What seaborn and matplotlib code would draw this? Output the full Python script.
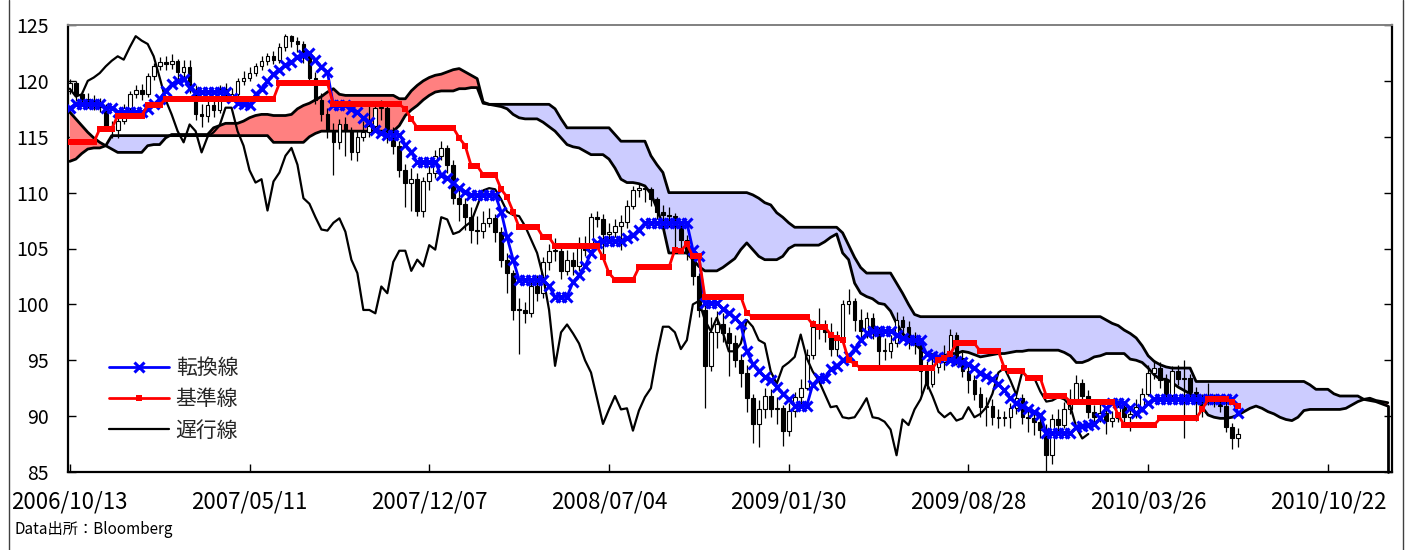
import matplotlib
matplotlib.use("Agg")
import matplotlib.pyplot as plt
from matplotlib.lines import Line2D
import seaborn as sns
import numpy as np
import pandas as pd

sns.set_theme(style="white")
plt.rcParams['font.family'] = ['Noto Sans CJK JP', 'DejaVu Sans']

# ---------------- data (weekly USD/JPY, week index 0 = 2006/10/13) ----------------
tick_labels = ['2006/10/13', '2007/05/11', '2007/12/07', '2008/07/04',
               '2009/01/30', '2009/08/28', '2010/03/26', '2010/10/22']
tick_weeks = [0, 30, 60, 90, 120, 150, 180, 210]

opens = [
    119.1, 119.8, 118.8, 118.4, 118.2, 118.0, 117.7, 116.0, 115.6, 116.4,
    117.6, 118.8, 119.2, 118.8, 120.4, 121.3, 121.7, 121.5, 121.8, 120.8,
    121.2, 119.2, 117.0, 116.9, 117.8, 117.4, 119.3, 118.6, 118.8, 120.0,
    120.3, 120.7, 121.3, 121.8, 122.2, 121.9, 123.0, 124.0, 123.6, 123.3,
    122.2, 120.3, 118.3, 117.0, 115.5, 114.5, 116.1, 115.5, 113.6, 115.0,
    115.4, 116.0, 117.6, 117.6, 115.5, 114.2, 112.0, 110.9, 111.2, 108.4,
    111.0, 111.8, 113.3, 114.0, 112.5, 109.5, 109.0, 107.8, 106.7, 106.6,
    107.3, 107.7, 106.5, 104.0, 102.8, 99.5, 99.5, 99.2, 101.6, 101.0,
    103.8, 104.8, 104.8, 103.0, 104.0, 103.4, 105.3, 104.9, 107.8, 107.6,
    106.3, 106.5, 107.0, 107.4, 108.8, 110.2, 110.4, 110.3, 109.4, 108.3,
    108.0, 107.9, 107.0, 105.8, 104.6, 102.5, 99.5, 94.5, 97.5, 98.2,
    97.4, 96.5, 95.0, 93.9, 91.6, 89.3, 90.6, 91.8, 90.6, 90.7,
    88.7, 90.5, 91.7, 92.5, 95.5, 98.0, 98.0, 97.5, 96.0, 96.8,
    100.0, 100.3, 98.6, 97.6, 98.8, 97.5, 95.8, 95.8, 96.5, 98.6,
    98.0, 96.8, 96.5, 94.0, 92.9, 94.4, 94.8, 95.3, 97.3, 95.2,
    94.0, 93.2, 92.0, 90.8, 90.9, 89.9, 89.8, 89.9, 90.7, 91.6,
    89.9, 89.8, 89.5, 88.8, 86.5, 89.7, 89.2, 90.6, 91.5, 93.0,
    91.8, 90.4, 89.9, 90.3, 89.6, 89.8, 90.8, 89.9, 90.2, 90.8,
    92.0, 93.9, 94.3, 93.2, 91.9, 94.0, 93.3, 93.4, 92.2, 91.3,
    91.4, 91.7, 91.5, 90.9, 89.0, 88.0]

closes = [
    119.8, 118.8, 118.4, 118.2, 118.0, 117.7, 116.0, 115.6, 116.4, 117.6,
    118.8, 119.2, 118.8, 120.4, 121.3, 121.7, 121.5, 121.8, 120.8, 121.2,
    119.2, 117.0, 116.9, 117.8, 117.4, 119.3, 118.6, 118.8, 120.0, 120.3,
    120.7, 121.3, 121.8, 122.2, 121.9, 123.0, 124.0, 123.6, 123.3, 122.2,
    120.3, 118.3, 117.0, 115.5, 114.5, 116.1, 115.5, 113.6, 115.0, 115.4,
    116.0, 117.6, 117.6, 115.5, 114.2, 112.0, 110.9, 111.2, 108.4, 111.0,
    111.8, 113.3, 114.0, 112.5, 109.5, 109.0, 107.8, 106.7, 106.6, 107.3,
    107.7, 106.5, 104.0, 102.8, 99.5, 99.5, 99.2, 101.6, 101.0, 103.8,
    104.8, 104.8, 103.0, 104.0, 103.4, 105.3, 104.9, 107.8, 107.6, 106.3,
    106.5, 107.0, 107.4, 108.8, 110.2, 110.4, 110.3, 109.4, 108.3, 108.0,
    107.9, 107.0, 105.8, 104.6, 102.5, 99.5, 94.5, 97.5, 98.2, 97.4,
    96.5, 95.0, 93.9, 91.6, 89.3, 90.6, 91.8, 90.6, 90.7, 88.7,
    90.5, 91.7, 92.5, 95.5, 98.0, 98.0, 97.5, 96.0, 96.8, 100.0,
    100.3, 98.6, 97.6, 98.8, 97.5, 95.8, 95.8, 96.5, 98.6, 98.0,
    96.8, 96.5, 94.0, 92.9, 94.4, 94.8, 95.3, 97.3, 95.2, 94.0,
    93.2, 92.0, 90.8, 90.9, 89.9, 89.8, 89.9, 90.7, 91.6, 89.9,
    89.8, 89.5, 88.8, 86.5, 89.7, 89.2, 90.6, 91.5, 93.0, 91.8,
    90.4, 89.9, 90.3, 89.6, 89.8, 90.8, 89.9, 90.2, 90.8, 92.0,
    93.9, 94.3, 93.2, 91.9, 94.0, 93.3, 93.4, 92.2, 91.3, 91.4,
    91.7, 91.5, 90.9, 89.0, 88.0, 88.4]

highs = [
    120.2, 120.0, 119.1, 118.9, 118.7, 118.5, 117.9, 116.4, 116.8, 117.9,
    119.1, 119.6, 119.7, 120.7, 121.6, 122.1, 122.2, 122.4, 122.0, 121.9,
    121.9, 119.6, 117.9, 118.3, 118.4, 119.6, 119.8, 119.4, 120.3, 120.9,
    121.2, 121.6, 122.2, 122.5, 122.7, 123.4, 124.2, 124.1, 123.9, 123.6,
    122.6, 120.8, 118.9, 117.6, 116.2, 116.6, 116.8, 115.9, 115.6, 116.4,
    117.8, 118.2, 118.3, 117.9, 115.9, 114.6, 112.6, 112.2, 111.8, 111.4,
    112.4, 113.8, 114.6, 114.3, 112.9, 110.4, 109.5, 108.7, 107.9, 108.4,
    108.6, 108.1, 106.9, 104.6, 103.1, 100.6, 100.2, 102.3, 102.6, 104.2,
    105.4, 105.9, 105.3, 104.9, 104.7, 106.0, 106.1, 108.2, 108.4, 108.1,
    107.3, 107.6, 108.0, 109.3, 110.6, 110.9, 110.6, 110.5, 109.6, 108.9,
    108.7, 108.2, 107.3, 106.2, 105.0, 102.8, 100.1, 98.9, 99.4, 99.2,
    98.0, 97.3, 95.6, 94.6, 92.0, 91.4, 92.5, 92.4, 91.7, 91.0,
    91.2, 92.2, 93.3, 96.0, 98.6, 99.7, 98.6, 98.3, 97.6, 100.4,
    101.4, 100.6, 99.6, 99.3, 99.2, 98.0, 97.0, 97.3, 99.3, 99.0,
    98.5, 97.5, 96.8, 94.9, 95.2, 95.5, 96.4, 97.8, 97.5, 95.7,
    94.6, 93.7, 92.6, 91.7, 91.5, 90.6, 90.5, 91.2, 92.2, 92.0,
    90.6, 90.3, 90.1, 89.3, 90.2, 90.6, 91.3, 92.4, 93.7, 93.3,
    92.3, 91.0, 91.1, 90.9, 90.5, 91.4, 91.3, 90.8, 91.5, 92.5,
    94.6, 95.0, 94.8, 93.8, 94.5, 94.6, 95.0, 93.8, 92.6, 92.0,
    93.0, 92.0, 91.9, 91.4, 89.4, 88.9]

lows = [
    118.8, 118.2, 117.9, 117.6, 117.4, 117.2, 115.6, 114.9, 114.9, 116.1,
    117.3, 118.5, 118.3, 118.6, 120.1, 121.0, 121.0, 121.1, 119.9, 120.2,
    118.9, 116.5, 115.9, 116.3, 116.8, 117.1, 118.2, 118.2, 118.5, 119.6,
    120.0, 120.4, 121.0, 121.4, 121.5, 121.6, 122.7, 123.0, 122.6, 121.6,
    119.8, 117.9, 116.4, 114.9, 111.6, 113.9, 113.3, 112.9, 112.8, 114.6,
    115.0, 115.6, 116.5, 114.4, 113.5, 111.4, 108.7, 108.4, 107.9, 107.8,
    110.2, 111.3, 112.9, 111.8, 109.0, 107.5, 106.7, 105.5, 105.4, 105.9,
    106.9, 105.6, 103.3, 101.0, 98.6, 95.6, 98.3, 98.9, 100.3, 100.6,
    103.1, 103.9, 102.3, 102.6, 102.6, 103.0, 104.3, 104.6, 106.9, 104.3,
    105.6, 106.0, 104.9, 106.8, 108.5, 109.6, 109.2, 108.8, 107.6, 106.8,
    106.9, 105.1, 105.0, 104.0, 101.7, 98.9, 90.7, 94.0, 96.1, 96.6,
    93.6, 94.4, 92.6, 90.4, 87.6, 87.2, 89.8, 89.9, 89.3, 87.3,
    88.2, 89.9, 90.9, 92.3, 95.1, 96.9, 96.6, 95.4, 95.4, 96.6,
    99.1, 97.6, 96.9, 97.0, 96.9, 94.6, 95.0, 95.2, 96.2, 96.8,
    96.0, 95.6, 91.8, 92.4, 92.6, 93.9, 94.1, 94.9, 94.6, 93.5,
    92.1, 91.4, 89.9, 89.1, 89.2, 88.9, 89.1, 88.9, 90.2, 89.3,
    88.6, 88.3, 88.0, 85.0, 85.7, 88.6, 88.9, 90.2, 91.1, 91.3,
    89.8, 89.3, 89.5, 88.4, 89.0, 89.5, 89.3, 88.7, 89.8, 90.4,
    91.8, 93.3, 92.5, 91.5, 91.7, 92.8, 88.0, 91.6, 89.6, 89.9,
    91.0, 90.8, 90.4, 88.6, 87.1, 87.2]

tenkan = [
    117.6, 117.9, 117.9, 117.9, 117.9, 117.9, 117.6, 117.6, 117.2, 117.2,
    117.2, 117.2, 117.2, 117.5, 117.9, 118.4, 119.1, 119.7, 120.0, 120.2,
    119.4, 119.0, 119.0, 119.0, 119.0, 119.0, 119.0, 118.5, 118.0, 117.9,
    117.8, 118.8, 119.3, 120.0, 120.6, 121.0, 121.4, 121.7, 122.1, 122.3,
    122.5, 121.9, 121.2, 120.8, 117.8, 117.8, 117.8, 117.5, 117.2, 116.7,
    116.3, 115.6, 115.3, 115.2, 115.2, 115.2, 114.3, 113.6, 112.7, 112.7,
    112.7, 112.7, 111.6, 111.3, 110.9, 110.4, 110.1, 109.8, 109.8, 109.8,
    109.8, 109.8, 108.3, 106.0, 104.0, 102.2, 102.2, 102.2, 102.2, 102.2,
    101.6, 100.7, 100.7, 100.7, 102.0, 102.6, 103.4, 104.6, 105.5, 105.7,
    105.7, 105.7, 105.7, 105.9, 106.2, 106.7, 107.3, 107.3, 107.3, 107.3,
    107.3, 107.3, 107.3, 107.3, 104.9, 104.3, 100.1, 100.1, 100.1, 99.6,
    99.2, 98.8, 98.2, 95.8, 94.7, 94.0, 93.5, 93.2, 92.6, 92.0,
    91.5, 90.9, 90.9, 90.9, 92.8, 93.4, 93.4, 94.2, 94.5, 95.0,
    95.4, 96.0, 96.8, 97.4, 97.6, 97.6, 97.6, 97.6, 97.3, 97.0,
    96.8, 96.8, 96.8, 95.6, 95.4, 95.3, 95.2, 95.0, 94.9, 94.8,
    94.7, 94.3, 93.9, 93.6, 93.3, 92.9, 92.3, 91.6, 91.2, 90.9,
    90.6, 90.4, 90.1, 88.5, 88.5, 88.5, 88.5, 88.5, 89.0, 89.1,
    89.2, 89.3, 89.8, 90.7, 91.2, 91.2, 91.2, 90.7, 90.3, 90.6,
    91.2, 91.5, 91.5, 91.5, 91.5, 91.5, 91.5, 91.5, 91.5, 91.5,
    91.5, 91.5, 91.5, 91.5, 91.5, 90.3]

kijun = [
    114.5, 114.5, 114.5, 114.5, 114.5, 115.7, 115.7, 115.7, 116.9, 116.9,
    116.9, 116.9, 116.9, 117.8, 117.8, 117.8, 118.4, 118.4, 118.4, 118.4,
    118.4, 118.4, 118.4, 118.4, 118.4, 118.4, 118.4, 118.4, 118.4, 118.4,
    118.4, 118.4, 118.4, 118.4, 118.4, 119.8, 119.8, 119.8, 119.8, 119.8,
    119.8, 119.8, 119.8, 119.8, 117.9, 117.9, 117.9, 117.9, 117.9, 117.9,
    117.9, 117.9, 117.9, 117.9, 117.9, 117.9, 117.5, 116.6, 115.8, 115.8,
    115.8, 115.8, 115.8, 115.8, 115.8, 114.9, 114.2, 112.4, 112.4, 111.6,
    111.6, 111.6, 110.3, 109.6, 108.3, 106.9, 106.9, 106.9, 106.9, 106.0,
    106.0, 105.2, 105.2, 105.2, 105.2, 105.2, 105.2, 105.2, 105.2, 104.2,
    102.8, 102.2, 102.2, 102.2, 102.2, 103.3, 103.3, 103.3, 103.3, 103.3,
    103.3, 104.9, 104.8, 105.4, 104.3, 104.3, 100.7, 100.7, 100.7, 100.7,
    100.7, 100.7, 100.7, 99.2, 98.9, 98.9, 98.9, 98.9, 98.9, 98.9,
    98.9, 98.9, 98.9, 98.9, 98.2, 98.0, 98.0, 97.3, 97.0, 96.8,
    95.0, 94.7, 94.3, 94.3, 94.3, 94.3, 94.3, 94.3, 94.3, 94.3,
    94.3, 94.3, 94.3, 94.3, 94.3, 95.0, 95.2, 95.6, 96.5, 96.5,
    96.5, 96.5, 95.8, 95.8, 95.8, 95.8, 94.3, 94.0, 94.0, 94.0,
    93.4, 93.4, 93.4, 91.8, 91.8, 91.8, 91.8, 91.3, 91.3, 91.3,
    91.3, 91.3, 91.3, 91.3, 91.3, 90.1, 89.2, 89.2, 89.2, 89.2,
    89.2, 89.2, 89.8, 89.8, 89.8, 89.8, 89.8, 89.8, 89.8, 90.6,
    91.5, 91.5, 91.5, 91.5, 91.3, 90.9]

span_a = [
    117.2, 116.6, 116.0, 115.4, 114.9, 114.5, 114.2, 113.9, 113.6, 113.6,
    113.6, 113.6, 113.6, 114.2, 114.3, 114.3, 114.9, 115.2, 115.2, 115.2,
    115.2, 115.2, 115.2, 115.2, 115.8, 116.0, 116.2, 116.2, 116.2, 116.4,
    116.7, 116.9, 117.0, 117.0, 116.9, 116.9, 116.9, 117.0, 117.5, 117.8,
    118.0, 118.3, 118.6, 119.0, 119.3, 118.8, 118.7, 118.7, 118.7, 118.7,
    118.7, 118.7, 118.7, 118.7, 118.7, 118.4, 118.4, 119.1, 119.6, 120.0,
    120.3, 120.5, 120.6, 120.8, 121.0, 121.1, 120.8, 120.5, 120.2, 118.1,
    117.9, 117.8, 117.7, 117.5, 117.0, 116.7, 116.6, 116.6, 116.6, 116.3,
    115.9, 115.5, 114.9, 114.3, 114.1, 114.0, 113.7, 113.4, 113.4, 113.4,
    113.0, 112.2, 111.2, 110.9, 110.9, 110.8, 110.6, 109.9, 108.6, 107.0,
    104.6, 104.6, 104.6, 104.6, 104.0, 103.4, 103.0, 103.0, 103.0, 103.3,
    103.7, 104.1, 104.9, 105.5, 104.9, 104.3, 104.0, 104.0, 104.0, 104.3,
    105.0, 105.3, 105.3, 105.3, 105.3, 105.3, 105.6, 106.0, 106.3, 104.6,
    104.0, 101.9, 101.0, 100.7, 100.5, 100.1, 100.0, 99.4, 98.3, 97.4,
    96.8, 96.5, 96.0, 95.6, 95.5, 95.3, 95.4, 95.6, 95.6, 95.8,
    95.7, 95.5, 95.3, 95.4, 95.5, 95.6, 95.6, 95.7, 95.8, 95.8,
    95.9, 95.9, 95.9, 95.9, 95.9, 95.9, 95.7, 95.4, 94.8, 94.8,
    95.0, 95.3, 95.4, 95.6, 95.6, 95.6, 95.6, 95.1, 95.0, 94.8,
    94.3, 93.7, 93.3, 93.3, 93.0, 92.6, 92.3, 92.0, 91.7, 90.8,
    90.1, 89.9, 89.8, 89.8, 89.9, 90.1, 90.4, 90.7, 90.9, 90.7,
    90.4, 90.2, 89.9, 89.7, 89.6, 89.9, 90.5, 90.6, 90.6, 90.6,
    90.6, 90.6, 90.6, 90.7, 91.0, 91.3, 91.5, 91.6, 91.4, 91.3,
    91.2]

span_b = [
    112.8, 113.0, 113.5, 113.9, 114.0, 114.0, 114.2, 115.1, 115.1, 115.1,
    115.1, 115.1, 115.1, 115.1, 115.1, 115.1, 115.1, 115.1, 115.1, 115.1,
    115.1, 115.1, 115.1, 115.1, 115.1, 115.1, 115.1, 115.1, 115.1, 115.1,
    115.1, 115.1, 115.1, 115.1, 114.5, 114.5, 114.5, 114.5, 114.5, 114.5,
    115.0, 115.3, 115.5, 115.5, 115.5, 115.5, 115.5, 115.5, 115.5, 115.5,
    115.5, 115.5, 115.5, 115.5, 115.5, 116.0, 116.9, 117.4, 117.8, 118.3,
    118.7, 119.0, 119.1, 119.1, 119.1, 119.3, 119.3, 119.4, 119.4, 118.0,
    117.9, 117.9, 117.9, 117.9, 117.9, 117.9, 117.9, 117.9, 117.9, 117.9,
    117.9, 117.5, 116.6, 115.8, 115.8, 115.8, 115.8, 115.8, 115.8, 115.8,
    115.8, 115.2, 114.6, 114.6, 114.6, 114.6, 114.6, 113.3, 112.5, 111.8,
    110.0, 110.0, 110.0, 110.0, 110.0, 110.0, 110.0, 110.0, 110.0, 110.0,
    110.0, 110.0, 110.0, 110.0, 109.8, 109.5, 109.1, 108.9, 108.2, 107.8,
    107.3, 106.9, 106.9, 106.9, 106.9, 106.9, 106.9, 106.9, 106.9, 106.4,
    105.3, 104.2, 103.3, 102.8, 102.8, 102.8, 102.8, 102.8, 101.9, 101.0,
    100.0, 99.1, 98.9, 98.9, 98.9, 98.9, 98.9, 98.9, 98.9, 98.9,
    98.9, 98.9, 98.9, 98.9, 98.9, 98.9, 98.9, 98.9, 98.9, 98.9,
    98.9, 98.9, 98.9, 98.9, 98.9, 98.9, 98.9, 98.9, 98.9, 98.9,
    98.9, 98.9, 98.9, 98.6, 98.3, 98.1, 97.7, 97.4, 97.0, 96.3,
    95.4, 94.9, 94.6, 94.4, 94.3, 94.3, 94.3, 94.3, 93.1, 93.1,
    93.1, 93.1, 93.1, 93.1, 93.1, 93.1, 93.1, 93.1, 93.1, 93.1,
    93.1, 93.1, 93.1, 93.1, 93.1, 93.1, 93.1, 92.8, 92.4, 92.4,
    92.4, 92.0, 91.8, 91.8, 91.8, 91.8, 91.5, 91.4, 91.3, 91.1,
    90.9]

chikou_shift = 25   # lagging span = close plotted 25 weeks back

# ---------------- figure ----------------
W, H = 1407, 550
fig = plt.figure(figsize=(W / 100, H / 100), dpi=100)
fig.patch.set_facecolor('white')
ax = fig.add_axes([68 / W, 1 - 472 / H, (1392 - 68) / W, (472 - 25) / H])
ax.set_facecolor('white')

o = np.array(opens); c = np.array(closes); hi = np.array(highs); lo = np.array(lows)
wk = np.arange(len(closes))
a = np.array(span_a); b = np.array(span_b)
wk_cloud = np.arange(len(span_a))

# cloud
ax.fill_between(wk_cloud, a, b, where=a >= b, interpolate=True, color='#FF8080', lw=0, zorder=1)
ax.fill_between(wk_cloud, a, b, where=b > a, interpolate=True, color='#CCCCFF', lw=0, zorder=1)
ax.plot(wk_cloud, a, color='black', lw=2.0, zorder=2)
ax.plot(wk_cloud, b, color='black', lw=2.0, zorder=2)
# end of the cloud series drops to the axis floor, as in the original chart
ax.plot([wk_cloud[-1], wk_cloud[-1]], [span_b[-1], 85], color='black', lw=2.0, zorder=2,
        clip_on=False)

# candlesticks
ax.vlines(wk, lo, hi, color='black', lw=0.9, zorder=3)
up = c >= o
body = np.maximum(np.abs(c - o), 0.1)
ax.bar(wk[up], body[up], bottom=np.minimum(o, c)[up], width=0.62,
       color='white', edgecolor='black', linewidth=0.8, zorder=4)
ax.bar(wk[~up], body[~up], bottom=np.minimum(o, c)[~up], width=0.62,
       color='black', edgecolor='black', linewidth=0.8, zorder=4)

# lines via seaborn
df_lines = pd.DataFrame({'week': wk, 'tenkan': tenkan, 'kijun': kijun})
df_chikou = pd.DataFrame({'week': wk[:-chikou_shift], 'chikou': closes[chikou_shift:]})

sns.lineplot(data=df_chikou, x='week', y='chikou', ax=ax, color='black', lw=1.6,
             label='遅行線', zorder=5)
sns.lineplot(data=df_lines, x='week', y='tenkan', ax=ax, color='#0000FF', lw=2,
             marker='x', markersize=7.5, markeredgewidth=2.2, markeredgecolor='#0000FF',
             label='転換線', zorder=6)
sns.lineplot(data=df_lines, x='week', y='kijun', ax=ax, color='#FF0000', lw=2,
             marker='s', markersize=4.5, markeredgewidth=0, markerfacecolor='#FF0000',
             label='基準線', zorder=7)

# axes
ax.set_xlim(-0.3, 220.7)
ax.set_ylim(85, 125)
ax.set_yticks(np.arange(85, 126, 5))
ax.set_xticks(tick_weeks)
ax.set_xticklabels(tick_labels)
ax.set_xlabel('')
ax.set_ylabel('')
ax.tick_params(axis='x', direction='in', length=6, width=1, pad=13, labelsize=16,
               colors='black', bottom=True)
ax.tick_params(axis='y', direction='in', length=6, width=1, pad=14, labelsize=14,
               colors='black', left=True, right=True)
for side in ['left', 'right', 'bottom']:
    ax.spines[side].set_color('black')
    ax.spines[side].set_linewidth(1.6)
ax.spines['top'].set_color('#808080')
ax.spines['top'].set_linewidth(1.4)
ax.grid(False)

# legend
handles, labels = ax.get_legend_handles_labels()
order = [labels.index('転換線'), labels.index('基準線'), labels.index('遅行線')]
leg = ax.legend([handles[i] for i in order], [labels[i] for i in order],
                loc='upper left', bbox_to_anchor=(109 / W, 1 - 357 / H),
                bbox_transform=fig.transFigure, frameon=False, fontsize=15,
                handlelength=2.9, handletextpad=0.3, labelspacing=0.45,
                numpoints=1, borderaxespad=0, borderpad=0)

fig.text(14 / W, 1 - 530 / H, 'Data出所：Bloomberg', fontsize=11,
         ha='left', va='center', color='black')

# outer chart-area border (left and right edges)
fig.add_artist(Line2D([9 / W, 9 / W], [0, 1], transform=fig.transFigure,
                      color='#404040', lw=1))
fig.add_artist(Line2D([1403 / W, 1403 / W], [0, 1], transform=fig.transFigure,
                      color='#404040', lw=1))

fig.savefig('out.png', dpi=100, facecolor='white')
